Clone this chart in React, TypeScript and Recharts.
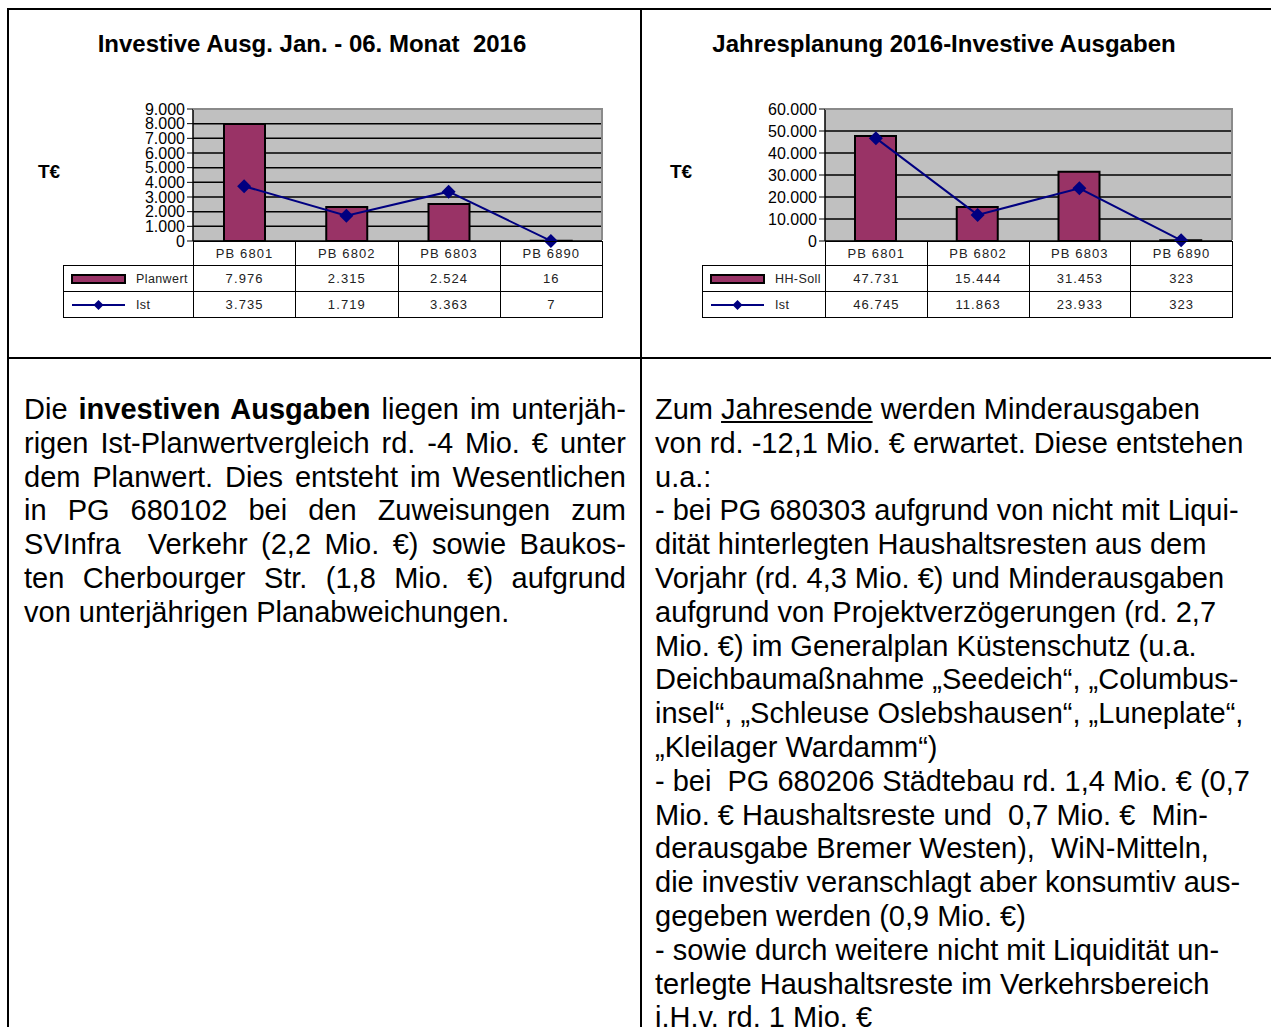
import { ComposedChart, Bar, Line, XAxis, YAxis, CartesianGrid } from "recharts";

// categories and values
const categories = ["PB 6801", "PB 6802", "PB 6803", "PB 6890"];

const planwert = [7976, 2315, 2524, 16];
const istHalbjahr = [3735, 1719, 3363, 7];
const leftTicks = [0, 1000, 2000, 3000, 4000, 5000, 6000, 7000, 8000, 9000];

const hhSoll = [47731, 15444, 31453, 323];
const istJahr = [46745, 11863, 23933, 323];
const rightTicks = [0, 10000, 20000, 30000, 40000, 50000, 60000];

const FONT = '"Liberation Sans", Arial, sans-serif';
const BAR = "#993366";
const LINE = "#000080";
const PLOT_TOP = 109;
const PLOT_BOTTOM = 241;
const PANEL_H = 358;

const fmt = (v: number) => String(v).replace(/\B(?=(\d{3})+(?!\d))/g, ".");

const Diamond = (props: any) => {
  const { cx, cy } = props;
  if (cx == null || cy == null) return null;
  const r = 7;
  return (
    <polygon
      points={`${cx},${cy - r} ${cx + r},${cy} ${cx},${cy + r} ${cx - r},${cy}`}
      fill={LINE}
    />
  );
};

interface PanelProps {
  x: number;
  width: number;
  title: string;
  titleX: number;
  unitX: number;
  plotL: number;
  plotR: number;
  legendL: number;
  barName: string;
  barValues: number[];
  lineValues: number[];
  ticks: number[];
}

function Panel(p: PanelProps) {
  const data = categories.map((name, i) => ({
    name,
    bar: p.barValues[i],
    line: p.lineValues[i],
  }));
  const colW = (p.plotR - p.plotL) / categories.length;
  const rowH = 25;
  const cell: React.CSSProperties = {
    position: "absolute",
    boxSizing: "border-box",
    border: "1px solid #000",
    display: "flex",
    alignItems: "center",
    justifyContent: "center",
    fontSize: 13,
    letterSpacing: 1.1,
    color: "#222",
  };
  const rows = [
    { label: p.barName, values: p.barValues, kind: "bar" },
    { label: "Ist", values: p.lineValues, kind: "line" },
  ];

  return (
    <div style={{ position: "absolute", left: p.x, top: 0, width: p.width, height: PANEL_H }}>
      <div
        style={{
          position: "absolute",
          left: p.titleX - 300,
          width: 600,
          top: 30,
          textAlign: "center",
          fontWeight: "bold",
          fontSize: 24,
          whiteSpace: "pre",
        }}
      >
        {p.title}
      </div>
      <div style={{ position: "absolute", left: p.unitX, top: 161, fontWeight: "bold", fontSize: 19 }}>
        T€
      </div>

      <ComposedChart
        width={p.width}
        height={PANEL_H}
        data={data}
        margin={{ top: PLOT_TOP, left: p.plotL - 60, right: p.width - p.plotR, bottom: PANEL_H - PLOT_BOTTOM }}
      >
        <CartesianGrid vertical={false} stroke="#000" strokeWidth={1.5} fill="#C0C0C0" fillOpacity={1} />
        <XAxis dataKey="name" hide />
        <YAxis
          width={60}
          domain={[0, p.ticks[p.ticks.length - 1]]}
          ticks={p.ticks}
          interval={0}
          tickFormatter={fmt}
          tickSize={6}
          axisLine={{ stroke: "#000", strokeWidth: 1.5 }}
          tickLine={{ stroke: "#000" }}
          tick={{ fill: "#000", fontSize: 16, fontFamily: FONT }}
        />
        <Bar dataKey="bar" barSize={41} fill={BAR} stroke="#000" strokeWidth={2} isAnimationActive={false} />
        <Line
          dataKey="line"
          type="linear"
          stroke={LINE}
          strokeWidth={2}
          dot={<Diamond />}
          activeDot={false}
          isAnimationActive={false}
        />
      </ComposedChart>

      {/* plot frame, grey top and right edge */}
      <div
        style={{
          position: "absolute",
          left: p.plotL,
          top: PLOT_TOP - 1,
          width: p.plotR - p.plotL + 1,
          height: PLOT_BOTTOM - PLOT_TOP,
          borderTop: "2px solid #8a8a8a",
          borderRight: "2px solid #8a8a8a",
          boxSizing: "border-box",
          pointerEvents: "none",
        }}
      />

      {/* data table */}
      {categories.map((c, i) => (
        <div
          key={c}
          style={{ ...cell, left: p.plotL + i * colW, top: PLOT_BOTTOM, width: colW + 1, height: rowH }}
        >
          {c}
        </div>
      ))}
      {rows.map((r, ri) => (
        <div key={r.label}>
          <div
            style={{
              ...cell,
              justifyContent: "flex-start",
              left: p.legendL,
              top: PLOT_BOTTOM + rowH - 1 + ri * (rowH + 1),
              width: p.plotL - p.legendL + 1,
              height: rowH + 2,
              fontSize: 12.5,
              letterSpacing: 0.4,
            }}
          >
            <svg width={62} height={14} style={{ marginLeft: 6, marginRight: 4 }}>
              {r.kind === "bar" ? (
                <rect x={2} y={3} width={53} height={8} fill={BAR} stroke="#000" strokeWidth={2} />
              ) : (
                <g>
                  <line x1={2} y1={7} x2={55} y2={7} stroke={LINE} strokeWidth={2} />
                  <polygon points="28.5,2 33.5,7 28.5,12 23.5,7" fill={LINE} />
                </g>
              )}
            </svg>
            {r.label}
          </div>
          {r.values.map((v, i) => (
            <div
              key={i}
              style={{
                ...cell,
                left: p.plotL + i * colW,
                top: PLOT_BOTTOM + rowH - 1 + ri * (rowH + 1),
                width: colW + 1,
                height: rowH + 2,
              }}
            >
              {fmt(v)}
            </div>
          ))}
        </div>
      ))}
    </div>
  );
}

const leftLines = [
  <>
    Die <b>investiven Ausgaben</b> liegen im unterjäh-
  </>,
  "rigen Ist-Planwertvergleich rd. -4 Mio. € unter",
  "dem Planwert. Dies entsteht im Wesentlichen",
  "in PG 680102 bei den Zuweisungen zum",
  "SVInfra\u00a0 Verkehr (2,2 Mio. €) sowie Baukos-",
  "ten Cherbourger Str. (1,8 Mio. €) aufgrund",
];
const leftLast = "von unterjährigen Planabweichungen.";

const rightLines = [
  <>
    Zum <u>Jahresende</u> werden Minderausgaben
  </>,
  "von rd. -12,1 Mio. € erwartet. Diese entstehen",
  "u.a.:",
  "- bei PG 680303 aufgrund von nicht mit Liqui-",
  "dität hinterlegten Haushaltsresten aus dem",
  "Vorjahr (rd. 4,3 Mio. €) und Minderausgaben",
  "aufgrund von Projektverzögerungen (rd. 2,7",
  "Mio. €) im Generalplan Küstenschutz (u.a.",
  "Deichbaumaßnahme „Seedeich“, „Columbus-",
  "insel“, „Schleuse Oslebshausen“, „Luneplate“,",
  "„Kleilager Wardamm“)",
  "- bei  PG 680206 Städtebau rd. 1,4 Mio. € (0,7",
  "Mio. € Haushaltsreste und  0,7 Mio. €  Min-",
  "derausgabe Bremer Westen),  WiN-Mitteln,",
  "die investiv veranschlagt aber konsumtiv aus-",
  "gegeben werden (0,9 Mio. €)",
  "- sowie durch weitere nicht mit Liquidität un-",
  "terlegte Haushaltsreste im Verkehrsbereich",
  "i.H.v. rd. 1 Mio. €",
];

export default function App() {
  const textStyle: React.CSSProperties = { fontSize: 29, lineHeight: "33.8px", color: "#000" };
  return (
    <div
      style={{
        position: "absolute",
        left: 0,
        top: 0,
        width: 1271,
        height: 1027,
        overflow: "hidden",
        background: "#fff",
        fontFamily: FONT,
        color: "#000",
      }}
    >
      {/* table frame */}
      <div style={{ position: "absolute", left: 7, top: 8, width: 1264, height: 2, background: "#000" }} />
      <div style={{ position: "absolute", left: 7, top: 357, width: 1264, height: 2, background: "#000" }} />
      <div style={{ position: "absolute", left: 7, top: 8, width: 2, height: 1019, background: "#000" }} />
      <div style={{ position: "absolute", left: 640, top: 8, width: 2, height: 1019, background: "#000" }} />

      <Panel
        x={0}
        width={640}
        title="Investive Ausg. Jan. - 06. Monat  2016"
        titleX={312}
        unitX={38}
        plotL={193}
        plotR={602}
        legendL={63}
        barName="Planwert"
        barValues={planwert}
        lineValues={istHalbjahr}
        ticks={leftTicks}
      />
      <Panel
        x={642}
        width={629}
        title="Jahresplanung 2016-Investive Ausgaben"
        titleX={302}
        unitX={28}
        plotL={183}
        plotR={590}
        legendL={60}
        barName="HH-Soll"
        barValues={hhSoll}
        lineValues={istJahr}
        ticks={rightTicks}
      />

      <div style={{ position: "absolute", left: 24, top: 393, width: 602, ...textStyle }}>
        {leftLines.map((l, i) => (
          <div key={i} style={{ textAlign: "justify", textAlignLast: "justify" }}>
            {l}
          </div>
        ))}
        <div>{leftLast}</div>
      </div>

      <div style={{ position: "absolute", left: 655, top: 393, width: 616, ...textStyle }}>
        {rightLines.map((l, i) => (
          <div key={i} style={{ whiteSpace: "pre" }}>
            {l}
          </div>
        ))}
      </div>
    </div>
  );
}
